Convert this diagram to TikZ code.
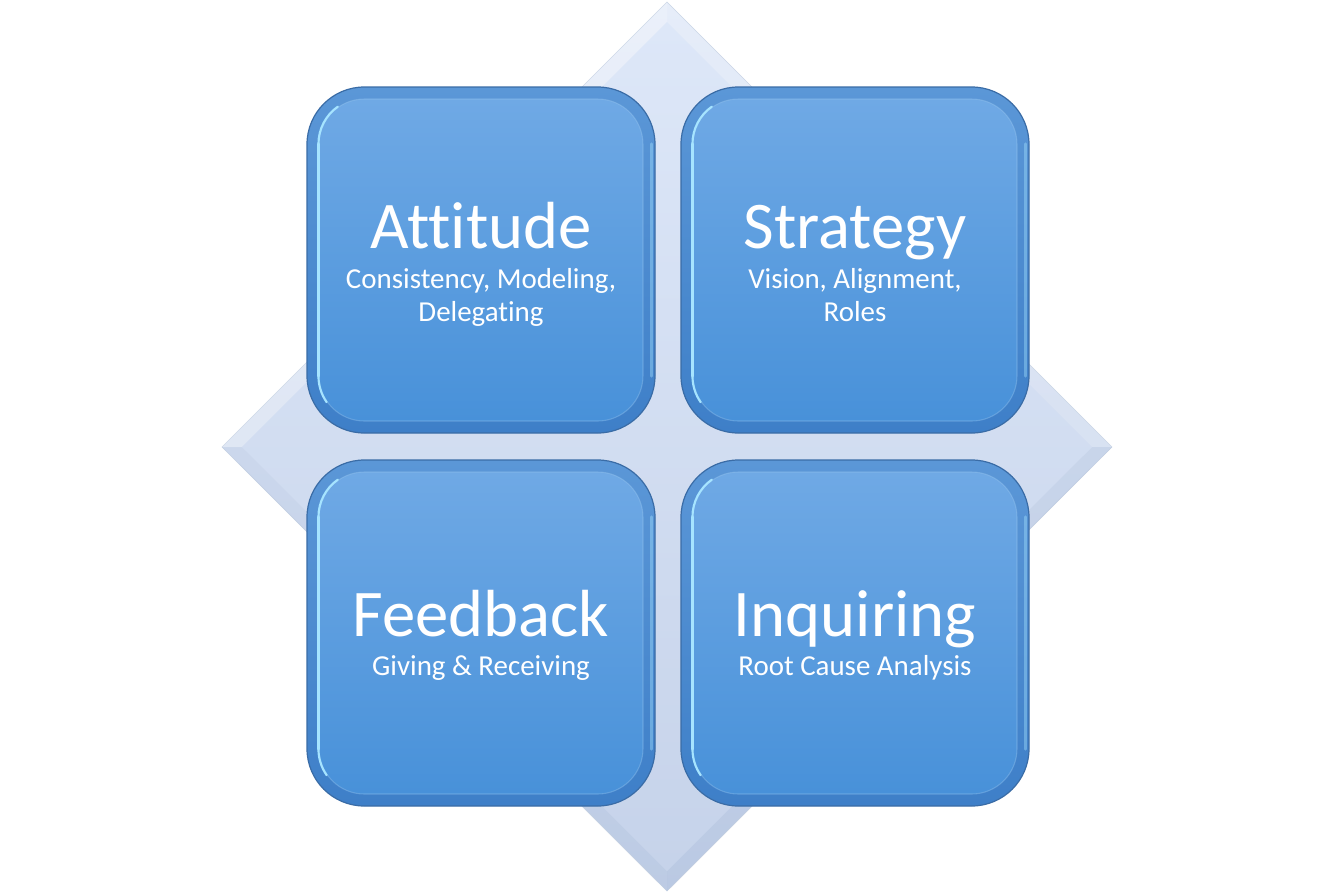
\documentclass[tikz,border=0pt]{standalone}
\usepackage{fontspec}
\setmainfont[Ligatures=NoCommon]{Carlito}
\usetikzlibrary{calc}
\begin{document}
\begin{tikzpicture}[x=0.75pt,y=-0.75pt,
  outerbox/.style={rectangle, rounded corners=43pt, minimum width=261pt, minimum height=259.5pt,
    draw=boxedge, line width=0.9pt, top color=boxoutTop, bottom color=boxoutBot, inner sep=0pt},
  innerbox/.style={rectangle, rounded corners=34pt, minimum width=243pt, minimum height=241.5pt,
    draw=boxrim, draw opacity=0.35, line width=0.8pt, top color=boxTop, bottom color=boxBot, inner sep=0pt},
  ttl/.style={text=white, anchor=base, inner sep=0pt, font=\fontsize{50}{56}\selectfont},
  sub/.style={text=white, anchor=base, inner sep=0pt, font=\fontsize{21.7}{25}\selectfont},
  hl/.style={draw=hlcol, line width=1.6pt, line cap=round},
  hlr/.style={draw=hlcol, draw opacity=0.4, line width=2pt, line cap=round}
]
\definecolor{boxedge}{HTML}{3A6CA6}
\definecolor{boxoutTop}{HTML}{5B97D7}
\definecolor{boxoutBot}{HTML}{3E7FC8}
\definecolor{boxTop}{HTML}{6FA9E5}
\definecolor{boxBot}{HTML}{4891D9}
\definecolor{boxrim}{HTML}{9ECBF2}
\definecolor{hlcol}{HTML}{A6E4FF}
\definecolor{diaTop}{HTML}{E2EAF8}
\definecolor{diaBot}{HTML}{C1CFE7}
\definecolor{diaInTop}{HTML}{DDE7F8}
\definecolor{diaInBot}{HTML}{C6D3EA}
\definecolor{diaEdge}{HTML}{C6D2E4}
\definecolor{diaShade}{HTML}{8EA4CC}
\useasboundingbox (0,0) rectangle (1336,894);
\fill[white] (0,0) rectangle (1336,894);
% diamond
\coordinate (dT) at (667,2);
\coordinate (dL) at (222,447);
\coordinate (dB) at (667,891);
\coordinate (dR) at (1112,447);
\coordinate (iT) at (667,22);
\coordinate (iL) at (242,447);
\coordinate (iB) at (667,871);
\coordinate (iR) at (1092,447);
\shade[top color=diaTop, bottom color=diaBot, draw=diaEdge, line width=0.5pt] (dT) -- (dR) -- (dB) -- (dL) -- cycle;
\fill[white, opacity=0.30] (dT) -- (iT) -- (iL) -- (dL) -- cycle;
\fill[white, opacity=0.15] (dT) -- (iT) -- (iR) -- (dR) -- cycle;
\fill[diaShade, opacity=0.08] (dB) -- (iB) -- (iL) -- (dL) -- cycle;
\fill[diaShade, opacity=0.12] (dB) -- (iB) -- (iR) -- (dR) -- cycle;
\shade[top color=diaInTop, bottom color=diaInBot] (iT) -- (iR) -- (iB) -- (iL) -- cycle;
% boxes
\foreach \n/\cx/\cy in {a/481/260, s/855/260, f/481/633, i/855/633}{
  \node[outerbox] (\n o) at (\cx,\cy) {};
  \node[innerbox] (\n) at (\cx,\cy) {};
  \draw[hl] ([yshift=-34pt]\n.north west) arc[start angle=180, end angle=125, radius=34pt];
  \draw[hl] ([yshift=-34pt]\n.north west) -- ([yshift=34pt]\n.south west);
  \draw[hl] ([yshift=34pt]\n.south west) arc[start angle=180, end angle=215, radius=34pt];
  \draw[hlr] ([yshift=-43pt,xshift=-3pt]\n o.north east) -- ([yshift=43pt,xshift=-3pt]\n o.south east);
}
% texts
\node[ttl] (at) at (481,248) {Attitude};
\node[sub] (a1) at (481,288) {Consistency, Modeling,};
\node[sub] (a2) at (481,321) {Delegating};
\node[ttl] (st) at (855,248) {Strategy};
\node[sub] (s1) at (855,288) {Vision, Alignment,};
\node[sub] (s2) at (855,321) {Roles};
\node[ttl] (ft) at (481,636) {Feedback};
\node[sub] (f1) at (481,675) {Giving \& Receiving};
\node[ttl] (it) at (855,636) {Inquiring};
\node[sub] (i1) at (855,675) {Root Cause Analysis};
\end{tikzpicture}
\end{document}
